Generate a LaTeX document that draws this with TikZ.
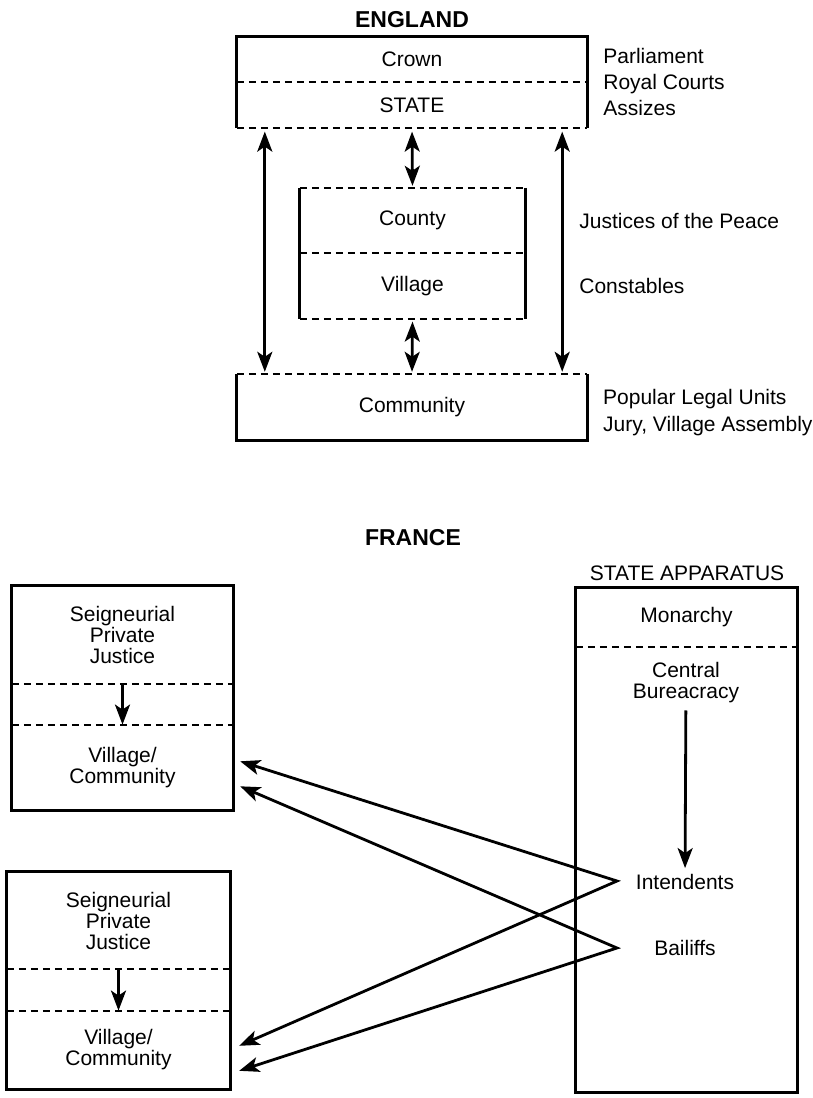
\documentclass[tikz,border=0pt]{standalone}
\usepackage{fontspec}
\setmainfont{Liberation Sans}
\usetikzlibrary{positioning,arrows.meta}

\begin{document}
\begin{tikzpicture}[x=1pt,y=-1pt,>={Stealth[length=20pt,width=15pt,inset=5pt]},
  every node/.style={font=\fontsize{21}{21}\selectfont,inner sep=0pt,align=center},
  title/.style={font=\fontsize{23}{23}\selectfont\bfseries},
  cell/.style args={#1 by #2}{minimum width=#1pt,minimum height=#2pt},
  frame/.style={line width=3pt},
  split/.style={line width=2.2pt,dash pattern=on 7pt off 5pt},
  link/.style={->,line width=2.8pt},
  twoway/.style={<->,line width=2.8pt}]
  \useasboundingbox (0,0) rectangle (813,1098);

  % England
  \node[title] (eng) at (412,20) {ENGLAND};
  \node[cell={350 by 45}] (crown) at (412,59.5) {Crown};
  \node[cell={350 by 45},below=0pt of crown] (state) {STATE};
  \node[right=16pt of crown.south east,align=left,font=\fontsize{21}{26}\selectfont] (courts) {Parliament\\Royal Courts\\Assizes};

  \node[cell={225 by 65}] (county) at (412.5,220.5) {County};
  \node[cell={225 by 65},below=0pt of county] (village) {Village};
  \node[right=54pt of county] (jp) {Justices of the Peace};
  \node[right=54pt of village] (const) {Constables};

  \node[cell={350 by 66}] (comm) at (412,407) {Community};
  \node[anchor=west,align=left,font=\fontsize{21}{27}\selectfont] (units) at (603,413) {Popular Legal Units\\Jury, Village Assembly};

  \draw[frame] (state.south west) -- (crown.north west) -- (crown.north east) -- (state.south east);
  \draw[split] (crown.south west) -- (crown.south east) (state.south west) -- (state.south east);
  \draw[frame] (county.north west) -- (village.south west) (county.north east) -- (village.south east);
  \draw[split] (county.north west) -- (county.north east) (county.south west) -- (county.south east)
    (village.south west) -- (village.south east);
  \draw[frame] (comm.north west) -- (comm.south west) -- (comm.south east) -- (comm.north east);
  \draw[split] (comm.north west) -- (comm.north east);

  \draw[twoway,shorten <=4pt,shorten >=2pt] ([xshift=28pt]state.south west) -- ([xshift=28pt]comm.north west);
  \draw[twoway,shorten <=4pt,shorten >=2pt] ([xshift=-25pt]state.south east) -- ([xshift=-25pt]comm.north east);
  \draw[twoway,shorten <=4pt,shorten >=2pt] (state.south) -- (county.north);
  \draw[twoway,shorten <=3pt,shorten >=2pt] (village.south) -- (comm.north);

  % France
  \node[title] (fra) at (413,538) {FRANCE};
  \node (appar) at (687,573) {STATE APPARATUS};
  \node[cell={221 by 59}] (mon) at (686.5,617.5) {Monarchy};
  \node[cell={221 by 445},below=0pt of mon] (bur) {};
  \node (central) at (686,683) {Central\\Bureacracy};
  \node (intend) at (685,882) {Intendents};
  \node (bail) at (685,948) {Bailiffs};
  \draw[frame] (mon.north west) rectangle (bur.south east);
  \draw[split] (mon.south west) -- (mon.south east);
  \draw[link,shorten <=7pt,shorten >=6pt] (central) -- (intend);

  \node[cell={221 by 98}] (seig1) at (122.5,635) {Seigneurial\\Private\\Justice};
  \node[cell={221 by 40},below=0pt of seig1] (gap1) {};
  \node[cell={221 by 85},below=0pt of gap1] (vill1) {Village/\\Community};
  \draw[frame] (seig1.north west) rectangle (vill1.south east);
  \draw[split] (gap1.north west) -- (gap1.north east) (gap1.south west) -- (gap1.south east);
  \draw[link] (gap1.north) -- (gap1.south);

  \node[cell={223 by 97}] (seig2) at (118.5,920.5) {Seigneurial\\Private\\Justice};
  \node[cell={223 by 41},below=0pt of seig2] (gap2) {};
  \node[cell={223 by 78},below=0pt of gap2] (vill2) {Village/\\Community};
  \draw[frame] (seig2.north west) rectangle (vill2.south east);
  \draw[split] (gap2.north west) -- (gap2.north east) (gap2.south west) -- (gap2.south east);
  \draw[link] (gap2.north) -- (gap2.south);

  \coordinate (ia) at (617,881);
  \coordinate (ba) at (617,948);
  \draw[twoway] ([shift={(7,-6)}]vill1.east) -- (ia) -- ([shift={(9,-4)}]vill2.east);
  \draw[twoway] ([shift={(7,19)}]vill1.east) -- (ba) -- ([shift={(9,21)}]vill2.east);
\end{tikzpicture}
\end{document}
